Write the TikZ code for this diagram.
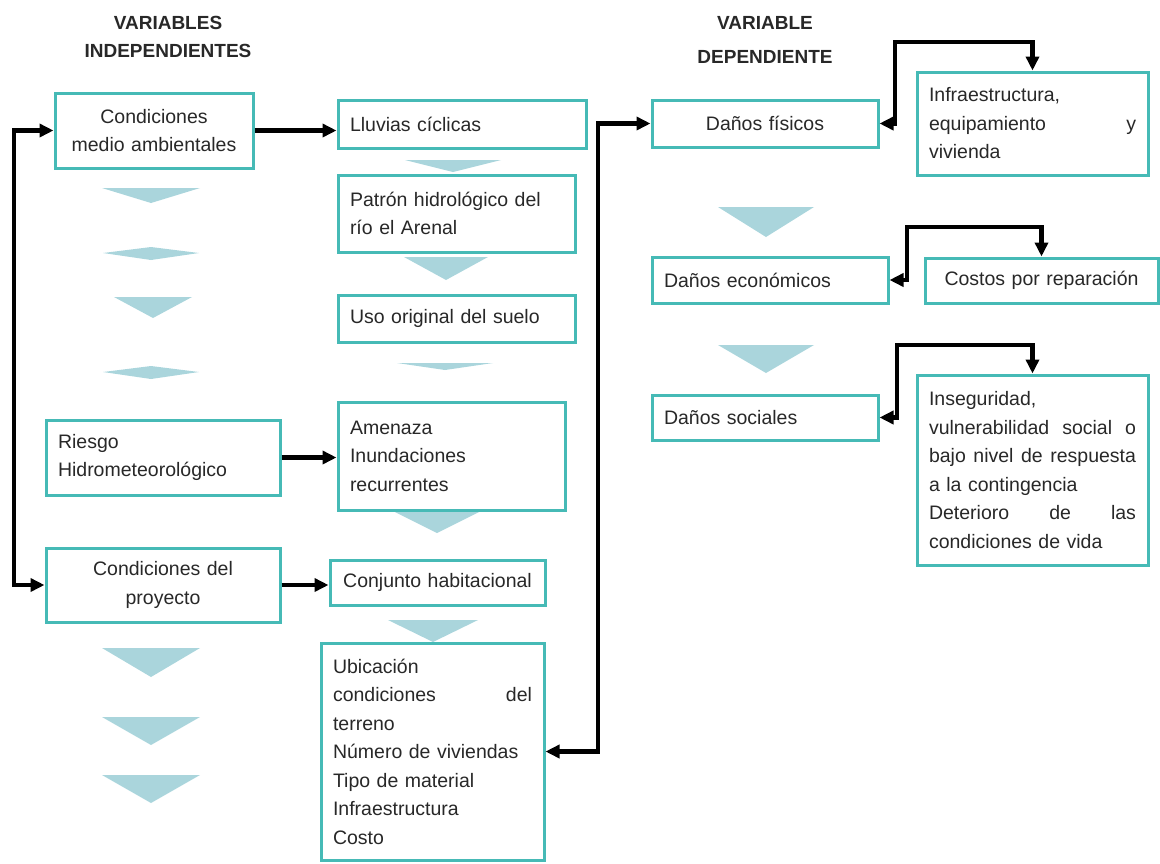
\documentclass[tikz,border=0pt]{standalone}
\usepackage{fontspec}
\setmainfont{Liberation Sans}
\usetikzlibrary{arrows.meta}
\definecolor{borde}{RGB}{70,186,182}
\definecolor{cuna}{RGB}{170,213,220}
\definecolor{letra}{RGB}{40,40,40}

\begin{document}
\begin{tikzpicture}[x=1pt,y=-1pt,
  >={Triangle[length=14pt,width=13pt]},
  caja/.style={draw=borde,line width=3pt,fill=white,inner xsep=12pt,inner ysep=2pt,
    text=letra,font=\fontsize{19.5}{28.5}\selectfont,align=left},
  centro/.style={align=center},
  titulo/.style={text=letra,font=\fontsize{19}{28}\selectfont\bfseries,align=center},
  conector/.style={line width=4.5pt,black,<->},
  unico/.style={line width=4.5pt,black,->}]
\useasboundingbox (0,0) rectangle (1160,863);

% titulos
\node[titulo] (tind) at (168,37) {VARIABLES\\INDEPENDIENTES};
\node[titulo] (tdep) at (765,40) {VARIABLE\\[6pt]DEPENDIENTE};

% flechas anchas (cunas)
\foreach \xc/\yt/\w/\h in {151/188/49/15, 153/297/39/21, 151/648/49/29, 151/717/49/28, 151/775/49/28,
  453/160/48/12, 446/257/42/23, 445/363/48/7, 437/512/42/21, 433/620/45/22,
  766/207/48/30, 766/345/48/28}
  \fill[cuna] (\xc-\w,\yt) -- (\xc+\w,\yt) -- (\xc,\yt+\h) -- cycle;
\foreach \xc/\yc in {151/253, 151/372}
  \fill[cuna] (\xc-48,\yc) -- (\xc,\yc-6) -- (\xc+48,\yc) -- (\xc,\yc+7) -- cycle;

% variables independientes
\node[caja,centro,text width=174,minimum height=75] (cma) at (154,130.5) {Condiciones\\medio ambientales};
\node[caja,text width=224,minimum height=48] (llu) at (462,124) {Lluvias c\'iclicas};
\node[caja,text width=213,minimum height=77] (pat) at (456.5,213.5) {Patr\'on hidrol\'ogico del\\r\'io el Arenal};
\node[caja,text width=213,minimum height=47] (uso) at (456.5,318.5) {Uso original del suelo};
\node[caja,text width=203,minimum height=108] (ame) at (451.5,456) {Amenaza\\Inundaciones\\recurrentes};
\node[caja,text width=210,minimum height=75] (rie) at (163,457.5) {Riesgo\\Hidrometeorol\'ogico};
\node[caja,centro,text width=210,minimum height=74] (cdp) at (163,585) {Condiciones del\\proyecto};
\node[caja,centro,text width=191,minimum height=45] (con) at (437.5,582.5) {Conjunto habitacional};
\node[caja,text width=199,minimum height=217] (ubi) at (432.5,751.5) {Ubicaci\'on\\condiciones \hfill del\\terreno\\N\'umero de viviendas\\Tipo de material\\Infraestructura\\Costo};

% variable dependiente
\node[caja,centro,text width=202,minimum height=47] (dfi) at (765,123.5) {Da\~nos f\'isicos};
\node[caja,text width=207,minimum height=103] (inf) at (1032.5,123.5) {Infraestructura,\\equipamiento \hfill y\\vivienda};
\node[caja,text width=212,minimum height=46] (dec) at (770,280) {Da\~nos econ\'omicos};
\node[caja,centro,text width=209,minimum height=45] (cos) at (1041.5,280.5) {Costos por reparaci\'on};
\node[caja,text width=202,minimum height=45] (dso) at (765,417.5) {Da\~nos sociales};
\node[caja,text width=207,minimum height=190] (ins) at (1032.5,470) {Inseguridad,\\vulnerabilidad \hfill social \hfill o\\bajo \hfill nivel \hfill de \hfill respuesta\\a la contingencia\\Deterioro \hfill de \hfill las\\condiciones de vida};

% esquinas de los conectores
\coordinate (izq) at (14,130.5);
\coordinate (bus) at (598,0);
\coordinate (c1) at (895,42);
\coordinate (c2) at (907,227);
\coordinate (c3) at (897,345);

% conectores
\draw[conector] (cma.west) -- (izq) |- (cdp.west);
\draw[unico] (cma.east) -- (llu.west |- cma.east);
\draw[unico] (rie.east) -- (ame.west |- rie.east);
\draw[unico] (cdp.east) -- (con.west |- cdp.east);
\draw[conector] (ubi.east) -- (ubi.east -| bus) -- (bus |- dfi.west) -- (dfi.west);
\draw[conector] (dfi.east) -| (c1) -| (inf.north);
\draw[conector] (dec.east) -| (c2) -| (cos.north);
\draw[conector] (dso.east) -| (c3) -| (ins.north);
\end{tikzpicture}
\end{document}
